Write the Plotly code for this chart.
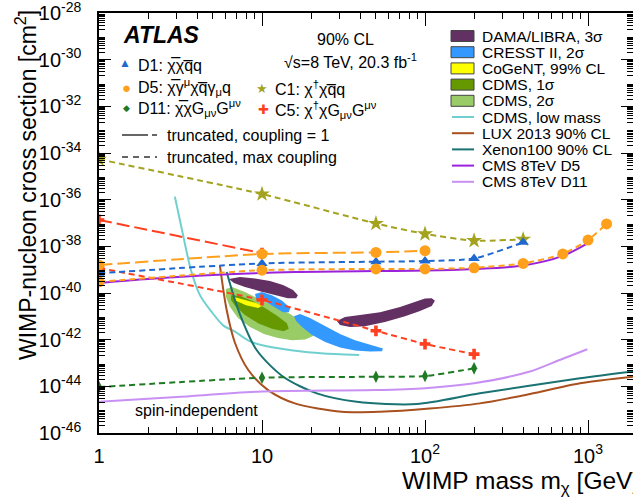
import plotly.graph_objects as go

# ---------------- data (mass in GeV, cross section in cm^2) ----------------
d1_mass = [1, 10, 50, 100, 200, 400]
d1_xsec = [7.0e-40, 1.86e-39, 2.19e-39, 2.34e-39, 3.0e-39, 1.48e-38]

d5_c1_mass = [1, 10, 50, 100]
d5_c1_xsec = [1.58e-39, 4.7e-39, 5.5e-39, 6.5e-39]

d5_max_mass = [1, 10, 50, 100, 200, 400, 700, 1000, 1300]
d5_max_xsec = [3.0e-40, 9.5e-40, 1.07e-39, 1.07e-39, 1.2e-39, 1.86e-39, 4.7e-39, 1.86e-38, 9.1e-38]

c1_mass = [1, 10, 50, 100, 200, 400]
c1_xsec = [5.4e-35, 1.74e-36, 9.5e-38, 3.4e-38, 1.74e-38, 2.0e-38]

c5_c1_mass = [1, 10]
c5_c1_xsec = [1.35e-37, 5.1e-39]

c5_max_mass = [1, 10, 50, 100, 200]
c5_max_xsec = [1.17e-39, 5.0e-41, 2.4e-42, 6.5e-43, 2.4e-43]

d11_mass = [1, 10, 50, 100, 200]
d11_xsec = [9.3e-45, 2.34e-44, 2.57e-44, 2.75e-44, 5.9e-44]

cms_d5_mass = [1, 2, 5, 16, 50, 100, 200, 400, 700, 1000]
cms_d5_xsec = [2.7e-40, 4.0e-40, 5.9e-40, 7.9e-40, 8.7e-40, 9.1e-40, 1.07e-39, 1.51e-39, 3.9e-39, 1.38e-38]

cms_d11_mass = [1, 3, 10, 50, 100, 200, 440, 670, 990]
cms_d11_xsec = [2.2e-45, 3.5e-45, 6.0e-45, 6.9e-45, 8.3e-45, 1.35e-44, 4.3e-44, 1.35e-43, 3.9e-43]

lux_mass = [5.52, 6.07, 6.83, 8.24, 10.9, 15.9, 30.8, 53, 107, 217, 441, 893, 1888]
lux_xsec = [1.45e-39, 1.86e-41, 7.2e-43, 5.0e-44, 6.9e-45, 1.86e-45, 8.1e-46, 8.1e-46, 1.12e-45, 1.86e-45, 4.7e-45, 1.35e-44, 2.57e-44]

xenon_mass = [6.07, 7.16, 9.27, 13.5, 21.7, 38.1, 88.9, 217, 893, 1888]
xenon_xsec = [7.9e-40, 1.86e-41, 3.6e-43, 2.57e-44, 5.0e-45, 2.2e-45, 1.74e-45, 5.0e-45, 2.2e-44, 4.3e-44]

cdms_low_mass = [2.92, 3.23, 3.66, 4.17, 4.9, 5.8, 6.83, 8.32, 10.2, 14.1, 20.0, 28.2, 39.5]
cdms_low_xsec = [1.35e-36, 5.0e-38, 1.0e-39, 7.9e-41, 1.58e-41, 4.0e-42, 2.2e-42, 8.9e-43, 5.6e-43, 3.8e-43, 2.8e-43, 2.4e-43, 2.2e-43]

dama1_mass = [6.27, 7.33, 9.06, 11.2, 13.45, 15.5, 16.6, 16.2, 14.4, 12.0, 9.72, 7.86, 6.73, 6.27]
dama1_xsec = [3.98e-40, 4.79e-40, 4.17e-40, 3.24e-40, 2.19e-40, 1.35e-40, 8.1e-41, 6.0e-41, 6.0e-41, 8.1e-41, 1.2e-40, 1.82e-40, 2.69e-40, 3.98e-40]

dama2_mass = [28.8, 32.3, 39.9, 53.0, 70.3, 86.8, 100, 110, 115, 110, 93.2, 75.4, 56.8, 42.8, 34.7, 30.1, 28.8]
dama2_xsec = [6.3e-42, 9.3e-42, 1.15e-41, 1.51e-41, 2.5e-41, 4.1e-41, 5.75e-41, 6.0e-41, 4.6e-41, 2.75e-41, 1.7e-41, 1.02e-41, 5.75e-42, 3.8e-42, 3.47e-42, 4.27e-42, 6.3e-42]

cresst1_mass = [9.06, 10.0, 11.5, 13.3, 14.9, 14.6, 13.45, 11.85, 10.28, 9.19, 9.06]
cresst1_xsec = [9.1e-41, 1.1e-40, 8.1e-41, 4.6e-41, 2.3e-41, 1.51e-41, 1.51e-41, 2.5e-41, 4.6e-41, 6.0e-41, 9.1e-41]

cresst2_mass = [15.7, 17.1, 19.7, 24.4, 30.1, 37.2, 46.0, 55.2, 54.5, 46.0, 37.2, 30.1, 24.4, 20.3, 17.6, 16.2, 15.7]
cresst2_xsec = [1.02e-41, 1.26e-41, 8.5e-42, 3.8e-42, 1.74e-42, 9.5e-43, 5.9e-43, 4.2e-43, 3.2e-43, 3.1e-43, 3.4e-43, 4.6e-43, 7.9e-43, 1.58e-42, 3.47e-42, 6.3e-42, 1.02e-41]

cdms2_mass = [6.01, 6.54, 7.86, 9.72, 12.0, 14.9, 17.9, 20.3, 20.6, 18.4, 15.3, 12.5, 10.28, 8.44, 7.12, 6.36, 6.01, 6.01]
cdms2_xsec = [1.48e-40, 1.82e-40, 1.1e-40, 5.5e-41, 2.75e-41, 1.26e-41, 5.1e-42, 2.3e-42, 1.45e-42, 1.02e-42, 9.5e-43, 1.17e-42, 1.74e-42, 3.47e-42, 8.5e-42, 2.5e-41, 6.8e-41, 1.48e-40]

cdms1_mass = [6.45, 7.33, 8.68, 10.43, 12.5, 14.2, 14.6, 13.6, 11.5, 9.45, 7.86, 6.93, 6.45, 6.45]
cdms1_xsec = [8.1e-41, 7.4e-41, 4.6e-41, 2.3e-41, 1.02e-41, 5.1e-42, 2.9e-42, 2.3e-42, 2.9e-42, 5.1e-42, 1.15e-41, 2.5e-41, 5.0e-41, 8.1e-41]

cogent_mass = [6.73, 7.86, 9.19, 10.0, 9.45, 7.98, 6.93, 6.73]
cogent_xsec = [6.8e-41, 5.0e-41, 3.7e-41, 2.75e-41, 2.3e-41, 3.0e-41, 4.6e-41, 6.8e-41]

x_tick_vals = [1, 10, 100, 1000]
x_tick_text = ["1", "10", "10<sup>2</sup>", "10<sup>3</sup>"]
y_label_exponents = list(range(-46, -27, 2))
y_odd_exponents = list(range(-45, -28, 2))

# ---------------- styles ----------------
FONT = "Liberation Sans, Arial, Helvetica, sans-serif"
C_D1 = "#1f68d0"
C_D5 = "#ffa01c"
C_C1 = "#a3a31f"
C_C5 = "#ff4020"
C_D11 = "#1f7a24"
C_LUX = "#a8501e"
C_XE = "#1a7272"
C_CDMSLOW = "#70d0d0"
C_CMSD5 = "#9b22dd"
C_CMSD11 = "#c890f2"
C_DAMA = "#623062"
C_CRESST = "#3399ff"
C_COGENT = "#ffff00"
C_CDMS1 = "#669900"
C_CDMS2 = "#99cc66"
LONG = "13px,5px"
SHORT = "6px,4px"

fig = go.Figure()

def region(x, y, color):
    fig.add_trace(go.Scatter(x=x, y=y, mode="lines", fill="toself", fillcolor=color,
                             line=dict(width=0, color=color), hoverinfo="skip", showlegend=False))

region(cdms2_mass, cdms2_xsec, C_CDMS2)
region(cdms1_mass, cdms1_xsec, C_CDMS1)
region(cogent_mass, cogent_xsec, C_COGENT)
region(dama1_mass, dama1_xsec, C_DAMA)
region(dama2_mass, dama2_xsec, C_DAMA)
region(cresst1_mass, cresst1_xsec, C_CRESST)
region(cresst2_mass, cresst2_xsec, C_CRESST)

def limit(x, y, color, width=2):
    fig.add_trace(go.Scatter(x=x, y=y, mode="lines",
                             line=dict(color=color, width=width, shape="spline", smoothing=0.8),
                             showlegend=False))

limit(cdms_low_mass, cdms_low_xsec, C_CDMSLOW)
limit(lux_mass, lux_xsec, C_LUX)
limit(xenon_mass, xenon_xsec, C_XE)
limit(cms_d11_mass, cms_d11_xsec, C_CMSD11)
limit(cms_d5_mass, cms_d5_xsec, C_CMSD5)

def model(x, y, color, dash, symbol, size):
    fig.add_trace(go.Scatter(x=x, y=y, mode="lines+markers",
                             line=dict(color=color, width=2, dash=dash, shape="spline", smoothing=0.6),
                             marker=dict(symbol=symbol, size=size, color=color, line=dict(width=0)),
                             showlegend=False))

model(d11_mass, d11_xsec, C_D11, SHORT, "diamond-tall", 9)
model(c1_mass, c1_xsec, C_C1, SHORT, "star", 12)
model(c5_c1_mass, c5_c1_xsec, C_C5, LONG, "cross", 9)
model(c5_max_mass, c5_max_xsec, C_C5, SHORT, "cross", 9)
model(d1_mass, d1_xsec, C_D1, SHORT, "triangle-up", 10)
model(d5_c1_mass, d5_c1_xsec, C_D5, LONG, "circle", 11)
model(d5_max_mass, d5_max_xsec, C_D5, SHORT, "circle", 11)

# ---------------- layout geometry ----------------
L, R, T, B = 99, 633, 13, 433
W, H = R - L, B - T
def X(px): return (px - L) / W
def Y(py): return (B - py) / H

XR = [0, 3.276]
YR = [-46.0005, -27.9995]

x_minor = [k * 10 ** n for n in range(0, 4) for k in range(2, 10) if k * 10 ** n <= 1900]
y_major = [10.0 ** e for e in y_label_exponents]
y_text = ["10<sup>%d</sup>" % e for e in y_label_exponents]
y_minor = [k * 10.0 ** e for e in range(-46, -28) for k in range(2, 10)]
y_odd = [10.0 ** e for e in y_odd_exponents]

axis_common = dict(showline=True, linecolor="black", linewidth=1.5, mirror="ticks",
                   ticks="inside", tickcolor="black", tickwidth=1, showgrid=False, zeroline=False,
                   automargin=False, ticklabeloverflow="allow",
                   tickfont=dict(family=FONT, size=20, color="black"))

fig.update_layout(
    xaxis=dict(type="log", range=XR, tickvals=x_tick_vals, ticktext=x_tick_text,
               ticklen=13, ticklabelstandoff=4,
               minor=dict(tickvals=x_minor, ticks="inside", ticklen=6, tickcolor="black", showgrid=False),
               **axis_common),
    yaxis=dict(type="log", range=YR, tickvals=y_major, ticktext=y_text,
               ticklen=12, ticklabelstandoff=12,
               minor=dict(tickvals=y_minor, ticks="inside", ticklen=6, tickcolor="black", showgrid=False),
               **axis_common),
    yaxis2=dict(type="log", range=YR, overlaying="y", side="left", tickvals=y_odd,
                ticks="inside", ticklen=12, tickcolor="black", showticklabels=False,
                showline=False, mirror="ticks", showgrid=False, zeroline=False, automargin=False),
)

ann = []
def text(px, py, s, size=16, xanchor="left", color="black", **kw):
    ann.append(dict(x=X(px), y=Y(py), xref="paper", yref="paper", text=s, showarrow=False,
                    xanchor=xanchor, yanchor="middle", font=dict(family=FONT, size=size, color=color), **kw))

# left legend block
ann.append(dict(x=X(121), y=Y(35), xref="paper", yref="paper", text="<b><i>ATLAS</i></b>", showarrow=False,
                xanchor="left", yanchor="middle", font=dict(family=FONT, size=23, color="black")))
text(345, 39, "90% CL", 16, "center")
text(350, 61, "√s=8 TeV, 20.3 fb<sup>-1</sup>", 16, "center")

text(125, 63, "▲", 12, "center", C_D1)
text(136, 65, "D1: χ̅χq̅q", 16)
text(126, 87, "●", 15, "center", C_D5)
text(136, 87, "D5: χ̅γ<sup>μ</sup>χq̅γ<sub>μ</sub>q", 16)
text(126, 108, "◆", 9, "center", C_D11)
text(136, 108, "D11: χ̅χG<sub>μν</sub>G<sup>μν</sup>", 16)
text(262, 88, "★", 13, "center", C_C1)
text(273, 88, "C1: χ<sup>†</sup>χq̅q", 16)
text(263, 110, "✚", 13, "center", C_C5)
text(273, 110, "C5: χ<sup>†</sup>χG<sub>μν</sub>G<sup>μν</sup>", 16)
text(165, 135, "truncated, coupling = 1", 16)
text(165, 157, "truncated, max coupling", 16)
text(133, 410, "spin-independent", 16)

shapes = []
def hline(x0, x1, py, color, width=2, dash="solid"):
    shapes.append(dict(type="line", xref="paper", yref="paper", x0=X(x0), x1=X(x1), y0=Y(py), y1=Y(py),
                       line=dict(color=color, width=width, dash=dash)))

hline(122, 148, 135, "#333333", 1.5)
hline(152, 157, 135, "#333333", 1.5)
hline(122, 157, 157, "#333333", 1.5, "6px,5px")

# right legend
rows = [36 + 16.2 * i for i in range(10)]
fills = [(C_DAMA, "DAMA/LIBRA, 3σ"), (C_CRESST, "CRESST II, 2σ"), (C_COGENT, "CoGeNT, 99% CL"),
         (C_CDMS1, "CDMS, 1σ"), (C_CDMS2, "CDMS, 2σ")]
lines = [(C_CDMSLOW, "CDMS, low mass"), (C_LUX, "LUX 2013 90% CL"), (C_XE, "Xenon100 90% CL"),
         (C_CMSD5, "CMS 8TeV D5"), (C_CMSD11, "CMS 8TeV D11")]
for i, (c, s) in enumerate(fills):
    py = rows[i]
    shapes.append(dict(type="rect", xref="paper", yref="paper", x0=X(451), x1=X(474), y0=Y(py + 5.5), y1=Y(py - 5.5),
                       fillcolor=c, line=dict(color="#444444", width=1)))
    text(480, py, s, 15.5)
for j, (c, s) in enumerate(lines):
    py = rows[5 + j]
    hline(452, 474, py, c, 2)
    text(480, py, s, 15.5)

# axis titles
ann.append(dict(x=X(26), y=Y(8), xref="paper", yref="paper", text="WIMP-nucleon cross section [cm<sup>2</sup>]",
                showarrow=False, textangle=-90, xanchor="center", yanchor="top",
                font=dict(family=FONT, size=23, color="black")))
ann.append(dict(x=X(400), y=Y(482), xref="paper", yref="paper", text="WIMP mass m<sub>χ</sub> [GeV]",
                showarrow=False, xanchor="left", yanchor="middle",
                font=dict(family=FONT, size=24.5, color="black")))

fig.update_layout(width=633, height=504, margin=dict(l=L, r=633 - R, t=T, b=504 - B, autoexpand=False),
                  paper_bgcolor="white", plot_bgcolor="white", showlegend=False,
                  annotations=ann, shapes=shapes)

fig.write_html("out.html", config={"displayModeBar": False},
               post_script="document.body.style.margin='0';document.body.style.overflow='hidden';")
